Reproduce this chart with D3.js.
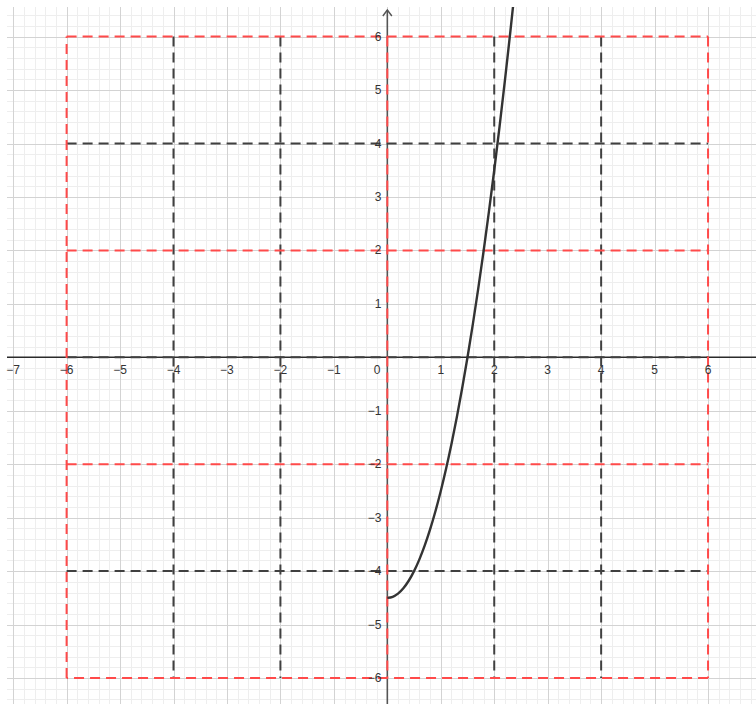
<!DOCTYPE html>
<html>
<head>
<meta charset="utf-8">
<script src="https://cdn.jsdelivr.net/npm/d3@7/dist/d3.min.js"></script>
<style>
  html, body { margin: 0; padding: 0; background: #fff; }
  svg { display: block; }
</style>
</head>
<body>
<svg id="chart" width="756" height="704"></svg>
<script>
// ---- data ----
const xTickValues = [-7, -6, -5, -4, -3, -2, -1, 1, 2, 3, 4, 5, 6];
const yTickValues = [-6, -5, -4, -3, -2, -1, 1, 2, 3, 4, 5, 6];
// red dashed segments [x1, y1, x2, y2]
const redSegments = [
  [-6, 6, 6, 6], [6, 6, 6, -6], [6, -6, -6, -6], [-6, -6, -6, 6],
  [-6, 2, 6, 2], [-6, -2, 6, -2], [0, 6, 0, -6]
];
// black dashed segments [x1, y1, x2, y2]
const blackSegments = [
  [-4, 6, -4, -6], [-2, 6, -2, -6], [2, 6, 2, -6], [4, 6, 4, -6],
  [-6, 4, 6, 4], [-6, 0, 6, 0], [-6, -4, 6, -4]
];
// curve points
const curveX = [0, 0.1, 0.2, 0.3, 0.4, 0.5, 0.6, 0.7, 0.8, 0.9, 1.0, 1.1, 1.2, 1.3, 1.4, 1.5,
                1.6, 1.7, 1.8, 1.9, 2.0, 2.1, 2.2, 2.3, 2.4];
const curveY = [-4.5, -4.48, -4.42, -4.32, -4.18, -4.0, -3.78, -3.52, -3.22, -2.88, -2.5, -2.08,
                -1.62, -1.12, -0.58, 0, 0.62, 1.28, 1.98, 2.72, 3.5, 4.32, 5.18, 6.08, 7.02];

// ---- layout ----
const W = 756, H = 704;
const padL = 7, padT = 7;
const svg = d3.select("#chart");
const x = d3.scaleLinear().domain([-7.246, 6.897]).range([0, W]);
const y = d3.scaleLinear().domain([6.685, -6.486]).range([0, H]);

svg.append("defs").append("clipPath").attr("id", "plot")
  .append("rect").attr("x", padL).attr("y", padT).attr("width", W - padL).attr("height", H - padT);

const g = svg.append("g").attr("clip-path", "url(#plot)");

// minor grid
const minorX = d3.range(-7.2, 7.0, 0.2).map(v => Math.round(v * 10) / 10);
const minorY = d3.range(-6.4, 6.8, 0.2).map(v => Math.round(v * 10) / 10);
g.append("g").selectAll("line").data(minorX.filter(v => Math.abs(v - Math.round(v)) > 1e-6))
  .join("line").attr("x1", d => Math.round(x(d)) + 0.5).attr("x2", d => Math.round(x(d)) + 0.5)
  .attr("y1", padT).attr("y2", H).attr("stroke", "#eeeeee").attr("stroke-width", 1);
g.append("g").selectAll("line").data(minorY.filter(v => Math.abs(v - Math.round(v)) > 1e-6))
  .join("line").attr("y1", d => Math.round(y(d)) + 0.5).attr("y2", d => Math.round(y(d)) + 0.5)
  .attr("x1", padL).attr("x2", W).attr("stroke", "#eeeeee").attr("stroke-width", 1);

// major grid
const majorX = d3.range(-7, 7);
const majorY = d3.range(-6, 7);
g.append("g").selectAll("line").data(majorX).join("line")
  .attr("x1", d => Math.round(x(d)) + 0.5).attr("x2", d => Math.round(x(d)) + 0.5)
  .attr("y1", padT).attr("y2", H).attr("stroke", "#d3d3d3").attr("stroke-width", 1);
g.append("g").selectAll("line").data(majorY).join("line")
  .attr("y1", d => Math.round(y(d)) + 0.5).attr("y2", d => Math.round(y(d)) + 0.5)
  .attr("x1", padL).attr("x2", W).attr("stroke", "#d3d3d3").attr("stroke-width", 1);

// axes
g.append("line").attr("x1", padL).attr("x2", W).attr("y1", y(0)).attr("y2", y(0))
  .attr("stroke", "#2b2b2b").attr("stroke-width", 1.6);
g.append("line").attr("x1", x(0)).attr("x2", x(0)).attr("y1", 10).attr("y2", H)
  .attr("stroke", "#555").attr("stroke-width", 1.6);
g.append("path")
  .attr("d", `M${x(0) - 4.5},${16} L${x(0)},${10} L${x(0) + 4.5},${16}`)
  .attr("fill", "none").attr("stroke", "#555").attr("stroke-width", 1.4);

// tick labels
const lab = svg.append("g").attr("font-family", "'Liberation Sans', Arial, sans-serif")
  .attr("font-size", 12).attr("fill", "#333");
const fmt = v => (v < 0 ? "\u2212" + Math.abs(v) : String(v));
lab.selectAll("text.xl").data(xTickValues).join("text").attr("class", "xl")
  .attr("x", d => x(d)).attr("y", y(0) + 17).attr("text-anchor", "middle").text(fmt);
lab.selectAll("text.yl").data(yTickValues).join("text").attr("class", "yl")
  .attr("x", x(0) - 6).attr("y", d => y(d) + 4).attr("text-anchor", "end").text(fmt);
lab.append("text").attr("x", x(0) - 7).attr("y", y(0) + 17).attr("text-anchor", "end").text("0");

// dashed segments
g.append("g").selectAll("line").data(blackSegments).join("line")
  .attr("x1", d => x(d[0])).attr("y1", d => y(d[1])).attr("x2", d => x(d[2])).attr("y2", d => y(d[3]))
  .attr("stroke", "#404040").attr("stroke-width", 2).attr("stroke-dasharray", "10,6");
g.append("g").selectAll("line").data(redSegments).join("line")
  .attr("x1", d => x(d[0])).attr("y1", d => y(d[1])).attr("x2", d => x(d[2])).attr("y2", d => y(d[3]))
  .attr("stroke", "#ff4a4a").attr("stroke-width", 2).attr("stroke-dasharray", "10,6");

// curve
const pts = curveX.map((v, i) => [v, curveY[i]]);
g.append("path").datum(pts)
  .attr("d", d3.line().x(d => x(d[0])).y(d => y(d[1])).curve(d3.curveCatmullRom.alpha(0.5)))
  .attr("fill", "none").attr("stroke", "#333").attr("stroke-width", 2.4);
</script>
</body>
</html>
